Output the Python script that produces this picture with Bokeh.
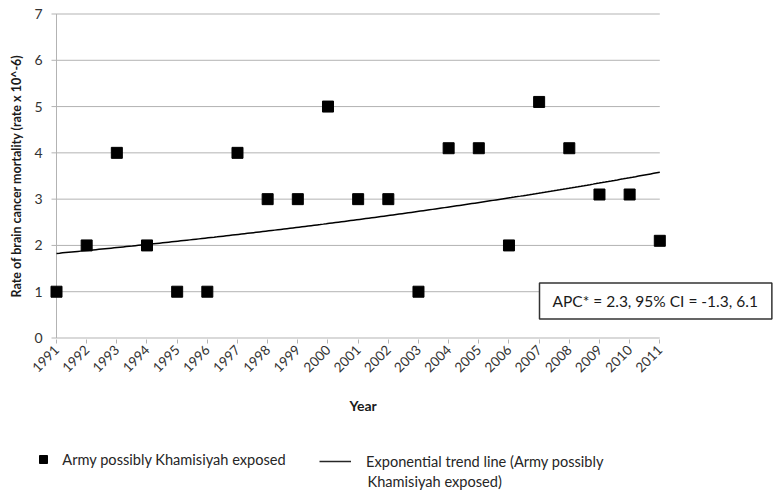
import numpy as np
from bokeh.plotting import figure
from bokeh.layouts import column
from bokeh.models import Range1d, FixedTicker, Label, Legend, LegendItem, Title
from bokeh.embed import file_html
from bokeh.resources import INLINE

# ---- data ----
years = [1991, 1992, 1993, 1994, 1995, 1996, 1997, 1998, 1999, 2000, 2001,
         2002, 2003, 2004, 2005, 2006, 2007, 2008, 2009, 2010, 2011]
year_labels = [str(y) for y in years]
rates = [1, 2, 4, 2, 1, 1, 4, 3, 3, 5, 3, 3, 1, 4.1, 4.1, 2, 5.1, 4.1, 3.1, 3.1, 2.1]
y_ticks = [0, 1, 2, 3, 4, 5, 6, 7]
series_label = "Army possibly Khamisiyah exposed"
trend_label_1 = "Exponential trend line (Army possibly"
trend_label_2 = "Khamisiyah exposed)"
annotation_text = "APC* = 2.3, 95% CI = -1.3, 6.1"
y_title = "Rate of brain cancer mortality (rate x 10^-6)"
x_title = "Year"

# exponential trend (least squares on log values, as a spreadsheet trend line does)
xa = np.array(years, dtype=float)
ya = np.log(np.array(rates, dtype=float))
b, a = np.polyfit(xa - years[0], ya, 1)
tx = np.linspace(years[0], years[-1], 200)
ty = np.exp(a + b * (tx - years[0]))

# ---- layout (pixels) ----
W = 774
H1, H2 = 445, 48                      # chart, legend strip
L, R, T, B = 48, 774, 12, 339          # frame edges of the chart
KX = (659.3 - 56) / (years[-1] - years[0])
KY = (337.5 - 13.5) / 7
X0 = years[0] - (56 - L) / KX
X1 = X0 + (R - L) / KX
Y1 = 7 + (13.5 - T) / KY
Y0 = Y1 - (B - T) / KY


def dx(px):
    return X0 + (px - L) / KX


def dy(py):
    return Y1 - (py - T) / KY


FONT = "Lato"
GRID = "#b3b3b3"
TXT = "#333333"
DARK = "#1a1a1a"

p = figure(width=W, height=H1, output_backend="svg", toolbar_location=None,
           x_range=Range1d(X0, X1), y_range=Range1d(Y0, Y1),
           min_border_left=L, min_border_right=W - R, min_border_top=T,
           min_border_bottom=H1 - B)
p.frame_align = False
p.outline_line_color = None
p.grid.visible = False

# x axis
p.xaxis.ticker = FixedTicker(ticks=years)
p.xaxis.major_label_overrides = {y: s for y, s in zip(years, year_labels)}
p.xaxis.major_label_orientation = np.pi / 4
p.xaxis.axis_line_color = None
p.xaxis.major_tick_line_color = GRID
p.xaxis.major_tick_out = 4
p.xaxis.major_tick_in = 0
p.xaxis.minor_tick_line_color = None
p.xaxis.major_label_standoff = 4
p.xaxis.major_label_text_font = FONT
p.xaxis.major_label_text_font_size = "13.5px"
p.xaxis.major_label_text_color = TXT

# y axis
p.yaxis.ticker = FixedTicker(ticks=y_ticks)
p.yaxis.axis_line_color = None
p.yaxis.major_tick_line_color = None
p.yaxis.major_tick_out = 0
p.yaxis.major_tick_in = 0
p.yaxis.minor_tick_line_color = None
p.yaxis.major_label_standoff = 6
p.yaxis.major_label_text_font = FONT
p.yaxis.major_label_text_font_size = "14px"
p.yaxis.major_label_text_color = TXT
p.yaxis.axis_label = y_title
p.yaxis.axis_label_standoff = 7
p.yaxis.axis_label_text_font = FONT
p.yaxis.axis_label_text_font_style = "bold"
p.yaxis.axis_label_text_font_size = "12.5px"
p.yaxis.axis_label_text_color = DARK

# gridlines (with small outward ticks on the left) and the left axis line
tick_len = 5 / KX
p.segment(x0=[years[0] - tick_len] * len(y_ticks), y0=y_ticks,
          x1=[years[-1]] * len(y_ticks), y1=y_ticks,
          line_color=GRID, line_width=1)
p.segment(x0=[years[0]], y0=[y_ticks[0]], x1=[years[0]], y1=[y_ticks[-1]],
          line_color=GRID, line_width=1)

# trend line and points
p.line(tx, ty, line_color="black", line_width=1.5)
p.scatter(years, rates, marker="square", size=11, fill_color="black",
          line_color="black")

# annotation box (anchor = box's left edge)
p.add_layout(Label(x=dx(539), y=dy(300.5), text=annotation_text,
                   text_font=FONT, text_font_size="15.5px",
                   text_color=DARK, text_align="left", text_baseline="middle",
                   border_line_color="#333333", border_line_width=1.5,
                   background_fill_color="white",
                   padding=dict(left=13, right=14, top=9, bottom=9)))

# x title
p.add_layout(Title(text=x_title, align="left", offset=349 - L,
                   text_font=FONT, text_font_style="bold",
                   text_font_size="14px", text_color=DARK, standoff=31), "below")

# ---- legend strip (pixel coordinates) ----
q = figure(width=W, height=H2, output_backend="svg", toolbar_location=None,
           x_range=Range1d(0, W), y_range=Range1d(0, H2),
           x_axis_type=None, y_axis_type=None,
           min_border_left=0, min_border_right=0, min_border_top=0,
           min_border_bottom=0)
q.frame_align = False
q.outline_line_color = None
q.grid.visible = False
nan = np.array([np.nan])
leg_pts = q.scatter(x=nan, y=nan, marker="square", size=8, fill_color="black",
                    line_color="black")
leg_line = q.line(x=nan, y=nan, line_color="#262626", line_width=1.5)


def up(py):  # image y -> strip y (from its bottom)
    return H1 + H2 - py


leg1 = Legend(items=[LegendItem(label=series_label, renderers=[leg_pts])],
              location=(33.3, up(469)),
              glyph_width=20, glyph_height=20, label_height=20,
              label_standoff=9, padding=0, margin=0, spacing=0,
              border_line_color=None, background_fill_alpha=0,
              label_text_font=FONT, label_text_font_size="14.6px",
              label_text_color="#262626")
leg2 = Legend(items=[LegendItem(label=trend_label_1, renderers=[leg_line])],
              location=(319, up(471)),
              glyph_width=32, glyph_height=20, label_height=20,
              label_standoff=15, padding=0, margin=0, spacing=0,
              border_line_color=None, background_fill_alpha=0,
              label_text_font=FONT, label_text_font_size="14.6px",
              label_text_color="#262626")
q.add_layout(leg1)
q.add_layout(leg2)
q.add_layout(Label(x=367, y=up(481), text=trend_label_2,
                   text_font=FONT, text_font_size="14.6px",
                   text_color="#262626", text_align="left", text_baseline="middle"))

page = column(p, q, spacing=0)
open("out.html", "w").write(file_html(page, INLINE))
